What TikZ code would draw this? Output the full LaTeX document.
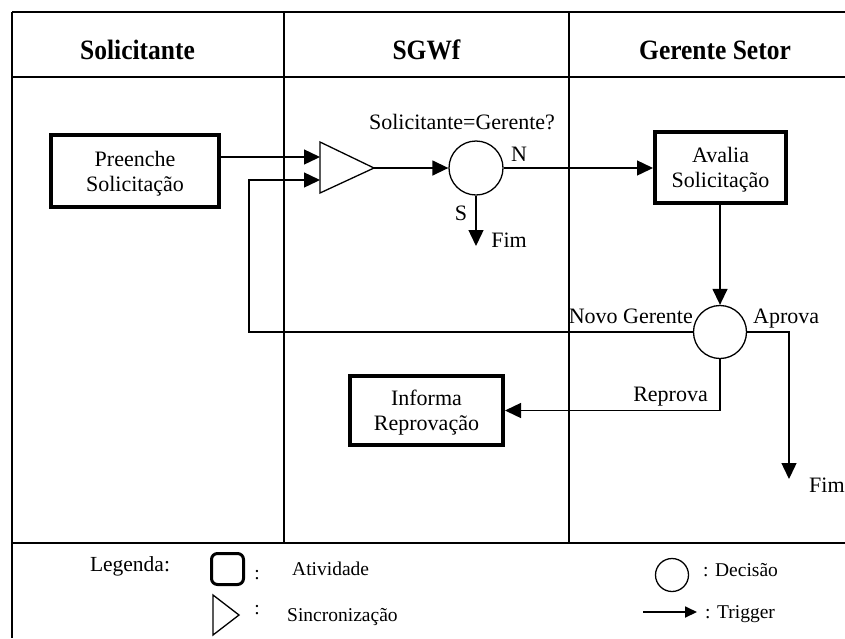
\documentclass[tikz,border=0pt]{standalone}
\usepackage{fontspec}
\setmainfont{Liberation Serif}
\newfontfamily\headfont[FakeStretch=0.91]{Liberation Serif}
\usetikzlibrary{arrows.meta}

\begin{document}
\begin{tikzpicture}[x=1pt,y=-1pt,
  lane/.style={line width=1.8pt},
  act/.style={draw, line width=4pt, align=center, inner sep=0pt,
    font=\fontsize{22}{25}\selectfont, text depth=0pt},
  dec/.style={draw, circle, line width=1.3pt, minimum size=54pt, inner sep=0pt},
  sync/.style={line width=1.3pt, line join=miter},
  flow/.style={line width=1.4pt, -{Triangle[length=16pt,width=15pt]}},
  flowsmall/.style={line width=1.8pt, -{Triangle[length=12pt,width=11pt]}},
  lbl/.style={font=\fontsize{22}{25}\selectfont, inner sep=0pt},
  hdr/.style={font=\headfont\bfseries\fontsize{28}{30}\selectfont, inner sep=0pt, anchor=base},
  leg/.style={font=\fontsize{19.5}{22}\selectfont, inner sep=0pt},
]
\useasboundingbox (0,0) rectangle (845,638);

% swimlane frame
\draw[line width=2.2pt] (12,12) -- (845,12);
\draw[lane] (12,12) -- (12,638);
\draw[lane] (12,77) -- (845,77);
\draw[lane] (12,543) -- (845,543);
\draw[lane] (284,12) -- (284,543);
\draw[lane] (569,12) -- (569,543);

% lane headers
\node[hdr] (h1) at (137.5,59) {Solicitante};
\node[hdr] (h2) at (426.5,59) {SGWf};
\node[hdr] (h3) at (715,59) {Gerente Setor};

% activities
\node[act, minimum width=168pt, minimum height=72pt] (pre) at (135,171) {Preenche\\Solicitação};
\node[act, minimum width=131pt, minimum height=71pt] (ava) at (720.5,167.5) {Avalia\\Solicitação};
\node[act, minimum width=153pt, minimum height=69pt] (inf) at (426.5,410.5) {Informa\\Reprovação};

% synchronisation triangle
\coordinate (syncA) at (320,142);
\coordinate (syncOut) at (374,168);
\coordinate (syncC) at (320,193);
\coordinate (syncIn1) at (320,157);
\coordinate (syncIn2) at (320,180);
\draw[sync] (syncA) -- (syncOut) -- (syncC) -- cycle;

% decisions
\node[dec] (dec1) at (476,168) {};
\node[dec, minimum size=53pt] (dec2) at (720,332) {};

% end points
\coordinate (fim1) at (476,246);
\coordinate (fim2) at (789,479);
\coordinate (loop) at (249,332);

% connectors
\draw[flow] (pre.east |- syncIn1) -- (syncIn1);
\draw[flow] (dec2.west) -- (loop) |- (syncIn2);
\draw[flow] (syncOut) -- (dec1.west);
\draw[flow] (dec1.east) -- (dec1.east -| ava.west);
\draw[flow] (dec1.south) -- (fim1);
\draw[flow] (ava.south -| dec2.north) -- (dec2.north);
\draw[flow] (dec2.east) -| (fim2);
\draw[flow] (dec2.south) |- (inf.east);

% connector labels
\node[lbl, anchor=base] (q) at (462,129) {Solicitante=Gerente?};
\node[lbl, anchor=base] (n) at (519,161) {N};
\node[lbl, anchor=base] (s) at (461,220) {S};
\node[lbl, anchor=base] (fim1t) at (509,247) {Fim};
\node[lbl, anchor=base east] (novo) at (693,323) {Novo Gerente};
\node[lbl, anchor=base west] (apr) at (753,323) {Aprova};
\node[lbl, anchor=base east] (rep) at (708,401) {Reprova};
\node[lbl, anchor=base west] (fim2t) at (809,492) {Fim};

% legend
\node[leg, font=\fontsize{21.5}{24}\selectfont, anchor=base] (legTitle) at (130,571) {Legenda:};
\node[draw, line width=3pt, rounded corners=6pt, minimum width=32pt, minimum height=31pt, inner sep=0pt] (legAct) at (227.5,569) {};
\node[leg, anchor=base] (legC1) at (257,579) {:};
\node[leg, anchor=base west] (legActT) at (292,575) {Atividade};
\draw[sync] (213,595) -- (239,615) -- (213,635) -- cycle;
\node[leg, anchor=base] (legC2) at (257,614) {:};
\node[leg, anchor=base west] (legSyncT) at (287,621) {Sincronização};
\node[dec, minimum size=33pt] (legDec) at (672,575) {};
\node[leg, anchor=base west] (legDecT) at (703,576) {: Decisão};
\coordinate (legA) at (643,612);
\coordinate (legB) at (697,612);
\draw[flowsmall] (legA) -- (legB);
\node[leg, anchor=base west] (legTrT) at (705,618) {: Trigger};
\end{tikzpicture}
\end{document}
